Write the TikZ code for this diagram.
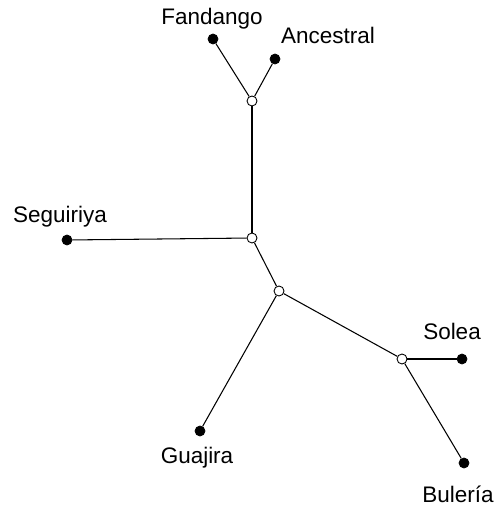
\documentclass[tikz,border=0pt]{standalone}
\usepackage{fontspec}
\setmainfont{Liberation Sans}
\tikzset{
    leafdot/.style={circle, fill=black, draw=black, inner sep=0pt, minimum size=0.2cm},
    splitdot/.style={circle, fill=white, draw=black, line width=0.5pt, inner sep=0pt, minimum size=0.2cm},
    leaflabel/.style={font=\fontsize{12.8}{15}\selectfont, inner sep=0pt},
    branch/.style={line width=0.6pt}
}
\begin{document}
\begin{tikzpicture}[x=0.02cm, y=-0.02cm]
        \useasboundingbox (0,0) rectangle (502,506);

        \node[splitdot] (u) at (252,101) {};
        \node[splitdot] (v) at (252,238) {};
        \node[splitdot] (w) at (279,291) {};
        \node[splitdot] (z) at (402,359) {};

        \node[leafdot] (fan) at (213,39) {};
        \node[leafdot] (anc) at (275,59) {};
        \node[leafdot] (seg) at (67,240) {};
        \node[leafdot] (gua) at (200,431) {};
        \node[leafdot] (sol) at (462,359) {};
        \node[leafdot] (bul) at (464,463) {};

        \node[leaflabel] (fanlab) at (212,19) {Fandango};
        \node[leaflabel] (anclab) at (328,35) {Ancestral};
        \node[leaflabel] (seglab) at (60,217) {Seguiriya};
        \node[leaflabel] (gualab) at (197,458) {Guajira};
        \node[leaflabel] (sollab) at (452,331) {Solea};
        \node[leaflabel] (bullab) at (458,494) {Bulería};

        \draw[branch] (fan) -- (u);
        \draw[branch] (anc) -- (u);
        \draw[branch] (u) -- (v);
        \draw[branch] (seg) -- (v);
        \draw[branch] (v) -- (w);
        \draw[branch] (w) -- (gua);
        \draw[branch] (w) -- (z);
        \draw[branch] (z) -- (sol);
        \draw[branch] (z) -- (bul);
    \end{tikzpicture}
\end{document}
